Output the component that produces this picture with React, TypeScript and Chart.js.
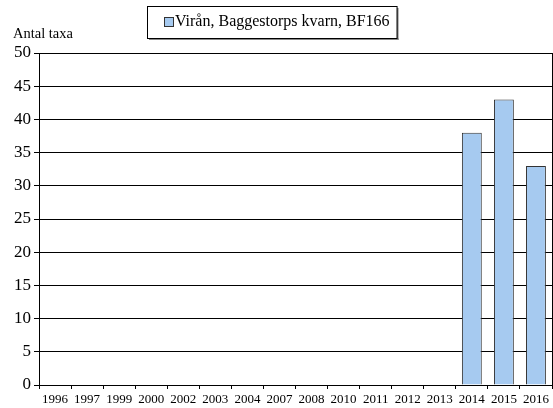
import React, { useEffect, useRef } from 'react';
import { Chart, registerables } from 'chart.js';

Chart.register(...registerables);

const categories = ['1996', '1997', '1999', '2000', '2002', '2003', '2004', '2007', '2008', '2010', '2011', '2012', '2013', '2014', '2015', '2016'];
const values: (number | null)[] = [null, null, null, null, null, null, null, null, null, null, null, null, null, 38, 43, 33];
const seriesLabel = 'Virån, Baggestorps kvarn, BF166';
const yAxisTitle = 'Antal taxa';
const yMin = 0;
const yMax = 50;
const yStep = 5;

const SERIF = '"Liberation Serif", "Times New Roman", serif';
const BAR_FILL = '#a6caf0';
const BAR_BORDER = '#333333';

const decorPlugin = {
  id: 'decor',
  afterDraw(chart: any) {
    const ctx = chart.ctx as CanvasRenderingContext2D;
    const area = chart.chartArea;
    ctx.save();
    // right border of plot
    ctx.strokeStyle = '#000';
    ctx.lineWidth = 1;
    ctx.beginPath();
    ctx.moveTo(Math.round(area.right) + 0.5, area.top);
    ctx.lineTo(Math.round(area.right) + 0.5, area.bottom);
    ctx.stroke();

    // y axis title
    ctx.fillStyle = '#000';
    ctx.font = `14.5px ${SERIF}`;
    ctx.textBaseline = 'alphabetic';
    ctx.textAlign = 'left';
    ctx.fillText(yAxisTitle, 13, 38);

    // legend
    ctx.font = `16px ${SERIF}`;
    const boxL = 147;
    const markerX = boxL + 17;
    const textX = boxL + 28;
    const textW = ctx.measureText(seriesLabel).width;
    const boxT = 6;
    const boxR = textX + textW + 7;
    const boxB = 38;
    // shadow
    ctx.fillStyle = '#888';
    ctx.fillRect(boxL + 2, boxB, boxR - boxL, 2);
    ctx.fillRect(boxR, boxT + 2, 2, boxB - boxT);
    ctx.fillStyle = '#fff';
    ctx.fillRect(boxL, boxT, boxR - boxL, boxB - boxT);
    ctx.strokeStyle = '#000';
    ctx.strokeRect(boxL + 0.5, boxT + 0.5, boxR - boxL, boxB - boxT);
    // marker
    ctx.fillStyle = BAR_FILL;
    ctx.fillRect(markerX + 0.5, 17.5, 9, 9);
    ctx.strokeStyle = BAR_BORDER;
    ctx.strokeRect(markerX + 0.5, 17.5, 9, 9);
    ctx.fillStyle = '#000';
    ctx.textBaseline = 'middle';
    ctx.fillText(seriesLabel, textX, 22);
    ctx.restore();
  },
};

export default function App() {
  const ref = useRef<HTMLCanvasElement | null>(null);

  useEffect(() => {
    document.body.style.margin = '0';
    const canvas = ref.current;
    if (!canvas) return;
    const chart = new Chart(canvas, {
      type: 'bar',
      data: {
        labels: categories,
        datasets: [
          {
            label: seriesLabel,
            data: values,
            backgroundColor: BAR_FILL,
            borderColor: BAR_BORDER,
            borderWidth: 1,
            categoryPercentage: 1,
            barPercentage: 0.62,
          },
        ],
      },
      options: {
        responsive: false,
        animation: false,
        events: [],
        layout: { padding: { top: 53, right: 1, left: 0, bottom: 0 } },
        plugins: {
          legend: { display: false },
          tooltip: { enabled: false },
          title: { display: false },
        },
        scales: {
          x: {
            offset: true,
            grid: {
              offset: true,
              drawOnChartArea: false,
              drawTicks: true,
              tickLength: 4,
              color: '#000',
            },
            border: { display: true, color: '#000', width: 1 },
            ticks: {
              color: '#000',
              font: { family: SERIF, size: 13 },
              padding: 3,
              maxRotation: 0,
              minRotation: 0,
              autoSkip: false,
            },
            afterFit(scale: any) {
              scale.height = 23;
            },
          },
          y: {
            min: yMin,
            max: yMax,
            grid: {
              color: '#000',
              lineWidth: 1,
              drawTicks: true,
              tickLength: 5,
            },
            border: { display: true, color: '#000', width: 1 },
            ticks: {
              stepSize: yStep,
              color: '#000',
              font: { family: SERIF, size: 17 },
              padding: 3,
            },
            afterFit(scale: any) {
              scale.width = 39;
            },
          },
        },
      },
      plugins: [decorPlugin],
    });
    return () => chart.destroy();
  }, []);

  return (
    <div style={{ width: 553, height: 408 }}>
      <canvas ref={ref} width={553} height={408} style={{ display: 'block', width: 553, height: 408 }} />
    </div>
  );
}
